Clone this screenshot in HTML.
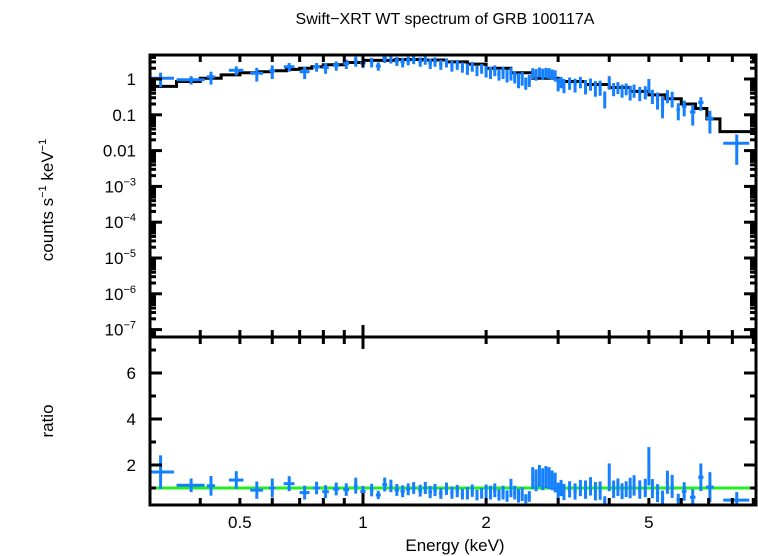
<!DOCTYPE html>
<html><head><meta charset="utf-8"><style>
html,body{margin:0;padding:0;background:#fff}
svg{display:block;font-family:"Liberation Sans",sans-serif}
</style></head><body>
<svg id="chart" width="758" height="556" viewBox="0 0 758 556">
<defs>
<clipPath id="cTop"><rect x="150" y="55" width="606" height="282"/></clipPath>
<clipPath id="cBot"><rect x="150" y="337" width="606" height="168"/></clipPath>
</defs>
<text x="445" y="24" text-anchor="middle" font-size="16">Swift−XRT WT spectrum of GRB 100117A</text>
<text transform="translate(53,200) rotate(-90)" text-anchor="middle" font-size="17">counts s<tspan font-size="11" dy="-7">−1</tspan><tspan dy="7"> keV</tspan><tspan font-size="11" dy="-7">−1</tspan></text>
<text transform="translate(53,421) rotate(-90)" text-anchor="middle" font-size="17">ratio</text>
<text x="455" y="551" text-anchor="middle" font-size="17">Energy (keV)</text>
<g id="gTop" clip-path="url(#cTop)"></g>
<g id="gBot" clip-path="url(#cBot)"></g>
<g id="gAxes"></g>
</svg>
<script>
const modelEdges=[0.3,0.35,0.4,0.45,0.5,0.55,0.6,0.65,0.7,0.75,0.8,0.9,1.0,1.2,1.4,1.6,1.8,2.0,2.3,2.6,3.0,3.5,4.0,4.5,5.0,5.5,6.0,6.5,6.93,7.46,9.3];
const modelValues=[0.62,0.85,1.05,1.3,1.5,1.6,1.7,1.85,2.0,2.2,2.5,2.9,3.3,3.5,3.4,3.0,2.6,2.0,1.5,1.05,0.85,0.7,0.58,0.45,0.36,0.28,0.2,0.15,0.077,0.034];
const energy=[0.32,0.38,0.425,0.49,0.55,0.6,0.66,0.72,0.77,0.81,0.86,0.91,0.96,1.0,1.05,1.09,1.13,1.17,1.21,1.25,1.29,1.33,1.38,1.42,1.46,1.5,1.55,1.6,1.65,1.7,1.75,1.8,1.85,1.9,1.95,2.0,2.05,2.1,2.15,2.2,2.25,2.3,2.35,2.4,2.45,2.5,2.55,2.6,2.65,2.7,2.75,2.8,2.85,2.9,2.95,3.0,3.05,3.1,3.2,3.3,3.4,3.5,3.6,3.7,3.8,3.9,4.0,4.1,4.2,4.3,4.4,4.5,4.6,4.75,4.9,5.0,5.1,5.25,5.4,5.55,5.7,5.9,6.1,6.4,6.7,7.05,8.2,9.15];
const halfWidth=[0.025,0.03,0.01,0.02,0.02,0.01,0.02,0.02,0.015,0.015,0.015,0.015,0.01,0.015,0.01,0.015,0.015,0.01,0.015,0.015,0.015,0.015,0.015,0.015,0.015,0.015,0.015,0.015,0.015,0.015,0.015,0.015,0.015,0.015,0.015,0.015,0.015,0.02,0.02,0.02,0.02,0.02,0.02,0.02,0.02,0.02,0.02,0.02,0.02,0.02,0.02,0.02,0.02,0.02,0.02,0.02,0.02,0.02,0.03,0.03,0.03,0.03,0.03,0.03,0.03,0.03,0.03,0.03,0.03,0.03,0.03,0.03,0.03,0.04,0.04,0.04,0.04,0.05,0.05,0.05,0.05,0.06,0.08,0.1,0.1,0.15,0.6,0.03];
const counts=[1.05,0.95,1.15,1.75,1.45,1.7,2.2,1.6,2.2,2.1,2.4,2.7,3.2,2.8,3.0,2.3,3.8,3.6,3.2,3.0,3.3,3.5,3.1,3.4,2.8,3.1,2.6,2.9,2.4,2.6,2.2,2.0,2.3,1.8,2.0,1.7,1.6,1.8,1.4,1.6,1.3,1.5,1.2,1.0,1.1,0.8,0.95,1.5,1.4,1.6,1.45,1.55,1.5,1.4,1.3,0.75,0.85,0.7,0.8,0.72,0.85,0.65,0.75,0.6,0.62,0.3,0.85,0.55,0.6,0.5,0.55,0.45,0.5,0.42,0.45,0.7,0.35,0.28,0.2,0.35,0.3,0.14,0.17,0.12,0.22,0.08,0.016,0.1];
const countErr=[0.45,0.25,0.45,0.5,0.6,0.7,0.6,0.6,0.6,0.7,0.7,0.8,1.0,0.8,0.9,0.6,1.0,0.9,0.9,0.9,0.9,0.9,0.9,0.9,0.9,0.9,0.8,0.8,0.8,0.8,0.7,0.7,0.7,0.6,0.6,0.6,0.6,0.6,0.5,0.6,0.5,0.6,0.45,0.45,0.45,0.3,0.35,0.5,0.5,0.5,0.5,0.5,0.5,0.45,0.45,0.3,0.3,0.3,0.3,0.3,0.3,0.28,0.28,0.28,0.28,0.15,0.35,0.22,0.22,0.2,0.2,0.2,0.2,0.18,0.18,0.3,0.15,0.14,0.12,0.14,0.14,0.07,0.08,0.07,0.09,0.05,0.012,0.2];
const xTickLabels=["0.5","1","2","5"];
const xTickValues=[0.5,1,2,5];
const yTopLabels=["1","0.1","0.01","10|−3","10|−4","10|−5","10|−6","10|−7"];
const yTopValues=[1,0.1,0.01,1e-3,1e-4,1e-5,1e-6,1e-7];
const yBotLabels=["2","4","6"];
const yBotValues=[2,4,6];

const L=150,R=756,T=55,M=337,B=505;
const x=e=>363+409*Math.log10(e);
const yTop=v=>79-35.8*Math.log10(Math.max(v,1e-12));
const yBot=r=>488-23*(r-1);
const NS="http://www.w3.org/2000/svg";
function mk(tag,attrs,parent){const el=document.createElementNS(NS,tag);for(const k in attrs)el.setAttribute(k,attrs[k]);parent.appendChild(el);return el;}
const gTop=document.getElementById('gTop'),gBot=document.getElementById('gBot'),gAx=document.getElementById('gAxes');
function model(e){for(let i=0;i<modelValues.length;i++){if(e<modelEdges[i+1])return modelValues[i];}return modelValues[modelValues.length-1];}

let d="";
for(let i=0;i<modelValues.length;i++){const y=yTop(modelValues[i]);d+=(i?"L":"M")+x(modelEdges[i])+","+y+"L"+x(modelEdges[i+1])+","+y;}
const ml=mk('path',{d:d,fill:"none",stroke:"#000","stroke-width":3},gTop);



const gl=mk('line',{x1:L,x2:R,y1:yBot(1),y2:yBot(1),stroke:"#22ee22","stroke-width":3},gBot);



const blue="#1580ff";
for(let i=0;i<energy.length;i++){
  const e=energy[i],w=halfWidth[i],c=counts[i],er=countErr[i];
  const g=mk('g',{stroke:blue,"stroke-width":3},gTop);
  
  
  const yc=yTop(c),yh=yTop(c+er),yl=c-er>0?yTop(c-er):B;
  mk('line',{x1:x(e-w),x2:x(e+w),y1:yc,y2:yc},g);
  mk('line',{x1:x(e),x2:x(e),y1:yh,y2:yl},g);
  const m=model(e),r=c/m,re=er/m;
  const g2=mk('g',{stroke:blue,"stroke-width":3},gBot);
  
  
  mk('line',{x1:x(e-w),x2:x(e+w),y1:yBot(r),y2:yBot(r)},g2);
  mk('line',{x1:x(e),x2:x(e),y1:yBot(r+re),y2:yBot(r-re)},g2);
}

mk('rect',{x:L,y:T,width:R-L,height:B-T,fill:"none",stroke:"#000","stroke-width":3},gAx);
mk('line',{x1:L,x2:R,y1:M,y2:M,stroke:"#000","stroke-width":3},gAx);
const tk={stroke:"#000","stroke-width":3};
for(let dec=0.1;dec<20;dec*=10){for(let k=1;k<10;k++){const e=dec*k;const xx=x(e);if(xx<=L+1||xx>=R-1)continue;
  const big=(k===1);const len=big?12:7;
  mk('line',Object.assign({x1:xx,x2:xx,y1:T,y2:T+len},tk),gAx);
  mk('line',Object.assign({x1:xx,x2:xx,y1:M-len,y2:M+len},tk),gAx);
  mk('line',Object.assign({x1:xx,x2:xx,y1:B,y2:B-len},tk),gAx);
}}
xTickValues.forEach((v,i)=>{const t=mk('text',{x:x(v),y:528,"text-anchor":"middle","font-size":17},gAx);t.textContent=xTickLabels[i];

});
for(let p=-8;p<1;p++){for(let k=1;k<10;k++){const v=Math.pow(10,p)*k;const yy=yTop(v);if(yy<T+1||yy>M-1)continue;const len=k===1?12:6;
  mk('line',Object.assign({x1:L,x2:L+len,y1:yy,y2:yy},tk),gAx);
  mk('line',Object.assign({x1:R,x2:R-len,y1:yy,y2:yy},tk),gAx);}}
yTopValues.forEach((v,i)=>{const parts=yTopLabels[i].split("|");const t=mk('text',{x:136,y:yTop(v)+6,"text-anchor":"end","font-size":17},gAx);


if(parts.length===1){t.textContent=parts[0];}else{t.textContent=parts[0];const s=mk('tspan',{"font-size":11,dy:-7},t);s.textContent=parts[1];}});
for(let r=1;r<=7;r++){const yy=yBot(r);const len=r%2===0?12:6;
  mk('line',Object.assign({x1:L,x2:L+len,y1:yy,y2:yy},tk),gAx);
  mk('line',Object.assign({x1:R,x2:R-len,y1:yy,y2:yy},tk),gAx);}
yBotValues.forEach((v,i)=>{const t=mk('text',{x:136,y:yBot(v)+6,"text-anchor":"end","font-size":17},gAx);t.textContent=yBotLabels[i];

});
</script>
</body></html>
